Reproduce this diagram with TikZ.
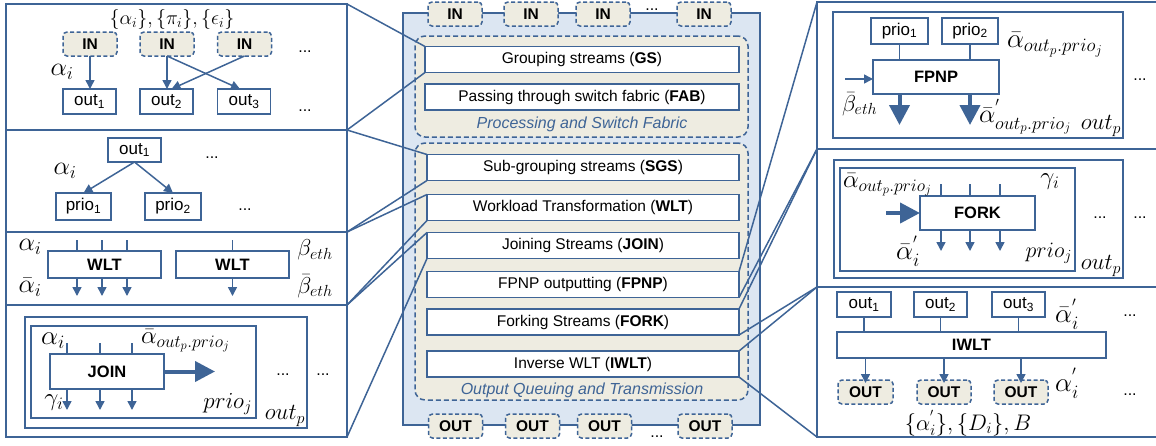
\RequirePackage{fix-cm}
\documentclass[tikz,border=0pt]{standalone}
\usepackage[no-math]{fontspec}
\setmainfont{Liberation Sans}
\usetikzlibrary{arrows.meta}
\definecolor{lb}{RGB}{62,100,150}
\definecolor{fillb}{RGB}{220,230,242}
\definecolor{tanf}{RGB}{238,236,225}
\begin{document}
\begin{tikzpicture}[x=1pt,y=-1pt,
  every node/.style={inner sep=0pt, outer sep=0pt},
  ln/.style={draw=lb, line width=1.5pt},
  pnl/.style={ln},
  wbox/.style={ln, fill=white, font=\fontsize{17}{20}\selectfont},
  bbox/.style={ln, fill=white, font=\bfseries\fontsize{16.5}{19}\selectfont},
  inbox/.style={draw=lb, line width=1.5pt, dash pattern=on 4pt off 2.5pt, fill=tanf, rounded corners=4pt,
     font=\bfseries\fontsize{15.5}{18}\selectfont, minimum width=54, minimum height=24},
  rowbox/.style={ln, fill=white, minimum width=312, minimum height=26, font=\fontsize{15.5}{18}\selectfont},
  tanbox/.style={draw=lb, line width=1.5pt, dash pattern=on 5pt off 3pt, fill=tanf, rounded corners=10pt},
  mth/.style={font=\fontsize{#1}{#1}\selectfont},
  mth/.default=24,
  dts/.style={font=\fontsize{16}{19}\selectfont, anchor=base},
  arr/.style={ln, -{Triangle[width=9pt,length=9pt]}},
  bigarr/.style={draw=lb, line width=4pt, -{Triangle[width=20pt,length=20pt]}},
  grp/.style={text=lb, font=\itshape\fontsize{16}{19}\selectfont}
]
\useasboundingbox (0,0) rectangle (1156,445);

% ---------------- left panels ----------------
\node[pnl, minimum width=341, minimum height=126] (L1) at (176.5,67) {};
\node[pnl, minimum width=341, minimum height=102] (L2) at (176.5,181) {};
\node[pnl, minimum width=341, minimum height=73] (L3) at (176.5,268.5) {};
\node[pnl, minimum width=341, minimum height=132] (L4) at (176.5,371) {};

% L1 : grouping
\node[mth=20] (l1lab) at (172,19) {$\{\alpha_i\},\{\pi_i\},\{\epsilon_i\}$};
\node[inbox] (in1) at (90,44) {IN};
\node[inbox] (in2) at (167,44) {IN};
\node[inbox] (in3) at (244.5,44) {IN};
\node[wbox, minimum width=53, minimum height=25] (o1) at (89.5,101.5) {out\textsubscript{1}};
\node[wbox, minimum width=53, minimum height=25] (o2) at (166.5,101.5) {out\textsubscript{2}};
\node[wbox, minimum width=53, minimum height=25] (o3) at (244,101.5) {out\textsubscript{3}};
\node[dts] (l1d1) at (305,52) {...};
\node[dts] (l1d2) at (305,111) {...};
\node[mth=26] (l1a) at (62,72) {$\alpha_i$};
\draw[arr] (in1.south) -- (in1.south |- o1.north);
\draw[arr] (in2.south) -- (in2.south |- o2.north);
\draw[arr] (in2.south) -- ([xshift=-4]o3.north);
\draw[arr] (in3.south) -- ([xshift=5]o2.north);

% L2 : sub-grouping
\node[wbox, minimum width=53, minimum height=24] (so1) at (134.5,150) {out\textsubscript{1}};
\node[wbox, minimum width=55, minimum height=27] (p1) at (83.5,206.5) {prio\textsubscript{1}};
\node[wbox, minimum width=56, minimum height=27] (p2) at (173,206.5) {prio\textsubscript{2}};
\draw[arr] (so1.south) -- (p1.north);
\draw[arr] (so1.south) -- (p2.north);
\node[mth=26] (l2a) at (65,171) {$\alpha_i$};
\node[dts] (l2d1) at (212,158) {...};
\node[dts] (l2d2) at (245,210) {...};

% L3 : WLT
\node[bbox, minimum width=113, minimum height=27] (w1) at (104.5,264.5) {WLT};
\node[bbox, minimum width=113, minimum height=27] (w2) at (232.5,264.5) {WLT};
\foreach \dx in {-27.5,-2.5,22.5} {
  \draw[ln] ([xshift=\dx]w1.north) -- ++(0,-11);
  \draw[arr] ([xshift=\dx]w1.south) -- ++(0,18);
}
\draw[ln] (w2.north) -- ++(0,-11);
\draw[arr] (w2.south) -- ++(0,18);
\node[mth=26] (l3a) at (30,247) {$\alpha_i$};
\node[mth=26] (l3ab) at (30,287) {$\bar\alpha_i$};
\node[mth=23] (l3b) at (315,250) {$\beta_{eth}$};
\node[mth=23] (l3bb) at (315,286) {$\bar\beta_{eth}$};

% L4 : JOIN
\node[pnl, minimum width=282, minimum height=111] (l4o) at (166,372.5) {};
\node[pnl, minimum width=225, minimum height=92] (l4i) at (143.5,372) {};
\node[bbox, minimum width=114, minimum height=35] (jn) at (107,371.5) {JOIN};
\foreach \dx in {-40,-7,25} {
  \draw[ln] ([xshift=\dx]jn.north) -- ++(0,-11);
  \draw[arr] ([xshift=\dx]jn.south) -- ++(0,21);
}
\draw[bigarr] (jn.east) -- ++(51,0);
\node[mth=27] (l4a) at (53,341) {$\alpha_i$};
\node[mth=25, anchor=west] (l4ab) at (141,341) {$\bar\alpha_{out_p.prio_j}$};
\node[mth=25] (l4g) at (54,403) {$\gamma_i$};
\node[mth=23, anchor=east] (l4p) at (252,404) {$prio_j$};
\node[dts] (l4d1) at (283,375) {...};
\node[dts] (l4d2) at (323,375) {...};
\node[mth=23] (l4op) at (285,416) {$out_p$};

% ---------------- right panels ----------------
\node[pnl, minimum width=353, minimum height=147] (R1) at (993.5,75.5) {};
\node[pnl, minimum width=353, minimum height=138] (R2) at (993.5,218) {};
\node[pnl, minimum width=353, minimum height=150] (R3) at (993.5,362) {};

% R1 : FPNP
\node[pnl, minimum width=290, minimum height=126] (r1i) at (978,75) {};
\node[wbox, minimum width=57, minimum height=26] (rp1) at (899.5,31) {prio\textsubscript{1}};
\node[wbox, minimum width=56, minimum height=26] (rp2) at (970,31) {prio\textsubscript{2}};
\node[bbox, minimum width=126, minimum height=34] (fp) at (936,77) {FPNP};
\draw[ln] (rp1.south) -- (rp1.south |- fp.north);
\draw[ln] (rp2.south) -- (rp2.south |- fp.north);
\draw[bigarr] (fp.south -| rp1.south) -- ++(0,31);
\draw[bigarr] (fp.south -| rp2.south) -- ++(0,31);
\draw[arr] ([xshift=-28]fp.west |- 0,79) -- (fp.west |- 0,79);
\node[mth=27, anchor=west] (r1a) at (1007,45) {$\bar\alpha_{out_p.prio_j}$};
\node[mth=23, anchor=west] (r1b) at (842,104) {$\bar\beta_{eth}$};
\node[mth=26, anchor=west] (r1ap) at (979,117) {$\bar\alpha^{'}_{out_p.prio_j}$};
\node[mth=23] (r1op) at (1101,126) {$out_p$};
\node[dts] (r1d) at (1140,80) {...};

% R2 : FORK
\node[pnl, minimum width=289, minimum height=118] (r2o) at (978.5,219) {};
\node[pnl, minimum width=235, minimum height=103] (r2i) at (957.5,219.5) {};
\node[bbox, minimum width=115, minimum height=34] (fk) at (977.5,213) {FORK};
\foreach \dx in {-36.5,-7.5,22.5} {
  \draw[ln] ([xshift=\dx]fk.north) -- ++(0,-12);
  \draw[arr] ([xshift=\dx]fk.south) -- ++(0,21);
}
\draw[bigarr] ([xshift=-34]fk.west) -- (fk.west);
\node[mth=25, anchor=west] (r2a) at (843,185) {$\bar\alpha_{out_p.prio_j}$};
\node[mth=25] (r2g) at (1050,182) {$\gamma_i$};
\node[mth=27] (r2ap) at (908,251) {$\bar\alpha^{'}_i$};
\node[mth=22, anchor=east] (r2p) at (1072,253) {$prio_j$};
\node[dts] (r2d1) at (1100,218) {...};
\node[dts] (r2d2) at (1140,218) {...};
\node[mth=23] (r2op) at (1101,266) {$out_p$};

% R3 : IWLT
\node[wbox, minimum width=54, minimum height=25] (io1) at (864,304.5) {out\textsubscript{1}};
\node[wbox, minimum width=53, minimum height=25] (io2) at (940.5,304.5) {out\textsubscript{2}};
\node[wbox, minimum width=53, minimum height=25] (io3) at (1018.5,304.5) {out\textsubscript{3}};
\node[bbox, minimum width=269, minimum height=26] (iw) at (971.5,345) {IWLT};
\node[inbox, minimum width=55] (iO1) at (865.5,392) {OUT};
\node[inbox, minimum width=54] (iO2) at (944,392) {OUT};
\node[inbox, minimum width=54] (iO3) at (1021,392) {OUT};
\foreach \a/\b in {io1/iO1,io2/iO2,io3/iO3} {
  \draw[ln] (\a.south) -- (\a.south |- iw.north);
  \draw[arr] (iw.south -| \b.north) -- ([yshift=-3]\b.north);
}
\node[mth=27] (r3ap) at (1067,314) {$\bar\alpha^{'}_i$};
\node[mth=27] (r3a) at (1067,383) {$\alpha^{'}_i$};
\node[dts] (r3d1) at (1130,316) {...};
\node[dts] (r3d2) at (1130,395) {...};
\node[mth=22.5] (r3l) at (968,423) {$\{\alpha^{'}_i\},\{D_i\},B$};

% ---------------- centre ----------------
\node[draw=lb, line width=1.5pt, fill=fillb, minimum width=357, minimum height=412] (main) at (581.5,219) {};
\node[tanbox, minimum width=333, minimum height=101] (psf) at (581.5,86.5) {};
\node[tanbox, minimum width=333, minimum height=257] (oqt) at (581.5,271.5) {};
\node[rowbox, minimum width=314] (GS) at (582,59.5) {Grouping streams (\textbf{GS})};
\node[rowbox, minimum width=314] (FAB) at (582,97) {Passing through switch fabric (\textbf{FAB})};
\node[grp] (psfl) at (582,124) {Processing and Switch Fabric};
\node[rowbox] (SGS) at (583,167.5) {Sub-grouping streams (\textbf{SGS})};
\node[rowbox] (WLT) at (583,207.5) {Workload Transformation (\textbf{WLT})};
\node[rowbox] (JOIN) at (583,245.5) {Joining Streams (\textbf{JOIN})};
\node[rowbox] (FPNP) at (583,284.5) {FPNP outputting (\textbf{FPNP})};
\node[rowbox] (FORK) at (583,322) {Forking Streams (\textbf{FORK})};
\node[rowbox] (IWLT) at (583,364) {Inverse WLT (\textbf{IWLT})};
\node[grp] (oqtl) at (582,390) {Output Queuing and Transmission};

\node[inbox] (tin1) at (455,14) {IN};
\node[inbox] (tin2) at (531,14) {IN};
\node[inbox] (tin3) at (603,14) {IN};
\node[dts] (tind) at (652,10) {...};
\node[inbox] (tin4) at (704,14) {IN};
\node[inbox] (bo1) at (455.5,426) {OUT};
\node[inbox] (bo2) at (532.5,426) {OUT};
\node[inbox] (bo3) at (604.5,426) {OUT};
\node[dts] (bod) at (657,437) {...};
\node[inbox] (bo4) at (705,426) {OUT};

% ---------------- connectors ----------------
\draw[ln] (L1.north east) -- (GS.north west);
\draw[ln] (L1.south east) -- (GS.south west);
\draw[ln] (L2.north east) -- (SGS.north west);
\draw[ln] (L2.south east) -- (SGS.south west);
\draw[ln] (L3.north east) -- (WLT.north west);
\draw[ln] (L3.south east) -- (WLT.south west);
\draw[ln] (L4.north east) -- (JOIN.north west);
\draw[ln] (L4.south east) -- (JOIN.south west);
\draw[ln] (R1.north west) -- (FPNP.north east);
\draw[ln] (R1.south west) -- (FPNP.south east);
\draw[ln] (R2.north west) -- (FORK.north east);
\draw[ln] (R2.south west) -- (FORK.south east);
\draw[ln] (R3.north west) -- (IWLT.north east);
\draw[ln] (R3.south west) -- (IWLT.south east);
\end{tikzpicture}
\end{document}
